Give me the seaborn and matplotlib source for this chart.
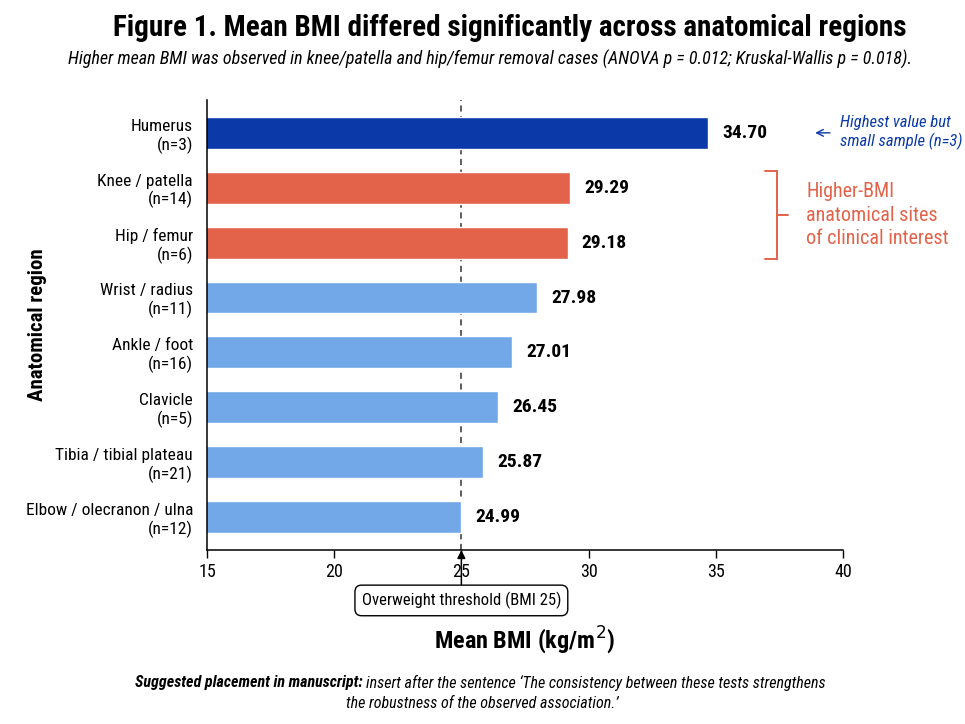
import matplotlib

matplotlib.use("Agg")
import matplotlib.pyplot as plt
import pandas as pd
import seaborn as sns
from matplotlib import font_manager

regions = [
    "Humerus\n(n=3)",
    "Knee / patella\n(n=14)",
    "Hip / femur\n(n=6)",
    "Wrist / radius\n(n=11)",
    "Ankle / foot\n(n=16)",
    "Clavicle\n(n=5)",
    "Tibia / tibial plateau\n(n=21)",
    "Elbow / olecranon / ulna\n(n=12)",
]
mean_bmi = [34.70, 29.29, 29.18, 27.98, 27.01, 26.45, 25.87, 24.99]
group = ["highest", "interest", "interest", "other", "other", "other", "other", "other"]
x_ticks = [15, 20, 25, 30, 35, 40]
threshold = 25

DARK_BLUE = "#0b3aa8"
RED = "#e2634a"
LIGHT_BLUE = "#72a7e8"
palette = {"highest": DARK_BLUE, "interest": RED, "other": LIGHT_BLUE}

sns.set_theme(style="white")
names = {f.name for f in font_manager.fontManager.ttflist}
narrow = next(
    (n for n in ["Roboto Condensed", "Liberation Sans Narrow", "Archivo Narrow",
                 "PT Sans Narrow", "Barlow Semi Condensed"] if n in names),
    "Liberation Sans",
)
plt.rcParams["font.family"] = [narrow, "DejaVu Sans"]
plt.rcParams["text.color"] = "black"

df = pd.DataFrame({"region": regions, "bmi": mean_bmi, "group": group})

fig = plt.figure(figsize=(9.65, 7.24), dpi=100)
ax = fig.add_axes([0.2145, 0.2403, 0.659, 0.6217])

sns.barplot(
    data=df, y="region", x="bmi", hue="group", palette=palette,
    dodge=False, legend=False, width=0.58, ax=ax, saturation=1,
)

ax.set_xlim(15, 40)
ax.set_ylim(7.6, -0.6)
ax.set_xticks(x_ticks)
ax.tick_params(axis="x", labelsize=13, length=6, width=1, direction="out",
               color="black", bottom=True, labelcolor="black")
ax.tick_params(axis="y", labelsize=12.5, length=0, pad=10, labelcolor="black")
for lab in ax.get_yticklabels():
    lab.set_horizontalalignment("right")
    lab.set_multialignment("right")
sns.despine(ax=ax)
for s in ["left", "bottom"]:
    ax.spines[s].set_color("black")
    ax.spines[s].set_linewidth(1.1)

ax.set_ylabel("Anatomical region", fontsize=15, fontweight="bold", color="black")
ax.yaxis.set_label_coords(-0.252, 0.5)
ax.set_xlabel("Mean BMI (kg/m$^2$)", fontsize=17.5, fontweight="bold", color="black")
ax.xaxis.set_label_coords(0.5, -0.165)

for container in ax.containers:
    ax.bar_label(container, fmt="%.2f", padding=10, fontsize=14, fontweight="bold",
                 color="black")

# threshold line + boxed label below axis
ax.axvline(threshold, color="#333333", ls=(0, (4, 3)), lw=1.1, zorder=0.5)
ax.annotate(
    "Overweight threshold (BMI 25)", xy=(threshold, 7.6), xycoords="data",
    xytext=(threshold, -0.112), textcoords=("data", "axes fraction"),
    ha="center", va="center", fontsize=12, annotation_clip=False,
    bbox=dict(boxstyle="round,pad=0.4,rounding_size=0.4", fc="white", ec="black", lw=1),
    arrowprops=dict(arrowstyle="-|>", color="black", lw=1.1, shrinkA=0, shrinkB=0),
)

# annotation for humerus
ax.annotate(
    "", xy=(38.8, 0), xytext=(39.6, 0), annotation_clip=False,
    arrowprops=dict(arrowstyle="->", color=DARK_BLUE, lw=1),
)
ax.text(39.9, 0, "Highest value but\nsmall sample (n=3)", color=DARK_BLUE,
        fontsize=12, style="italic", va="center", ha="left", clip_on=False)

# bracket for knee / hip
bx = 37.4
ax.plot([bx - 0.45, bx, bx, bx - 0.45], [0.7, 0.7, 2.3, 2.3],
        color=RED, lw=1.4, clip_on=False, solid_joinstyle="miter")
ax.plot([bx, bx + 0.45], [1.5, 1.5], color=RED, lw=1.4, clip_on=False)
ax.text(bx + 1.15, 1.5, "Higher-BMI\nanatomical sites\nof clinical interest", color=RED,
        fontsize=14.5, va="center", ha="left", linespacing=1.3, clip_on=False)

fig.text(0.528, 0.962, "Figure 1. Mean BMI differed significantly across anatomical regions",
         ha="center", va="center", fontsize=21, fontweight="bold")
fig.text(0.508, 0.918,
         "Higher mean BMI was observed in knee/patella and hip/femur removal cases "
         "(ANOVA p = 0.012; Kruskal-Wallis p = 0.018).",
         ha="center", va="center", fontsize=13, style="italic")

# footnote: bold-italic lead + italic rest, centered as one line
fig.canvas.draw()
renderer = fig.canvas.get_renderer()
lead = fig.text(0, 0.057, "Suggested placement in manuscript: ", fontsize=11.5,
                style="italic", fontweight="bold", va="center", ha="left")
rest = fig.text(0, 0.057, "insert after the sentence \u2018The consistency between these tests strengthens",
                fontsize=11.5, style="italic", va="center", ha="left")
w1 = lead.get_window_extent(renderer).width / fig.bbox.width
w2 = rest.get_window_extent(renderer).width / fig.bbox.width
x0 = 0.498 - (w1 + w2) / 2
lead.set_x(x0)
rest.set_x(x0 + w1)
fig.text(0.5, 0.029, "the robustness of the observed association.\u2019", fontsize=11.5,
         style="italic", ha="center", va="center")

fig.savefig("out.png", dpi=100)
